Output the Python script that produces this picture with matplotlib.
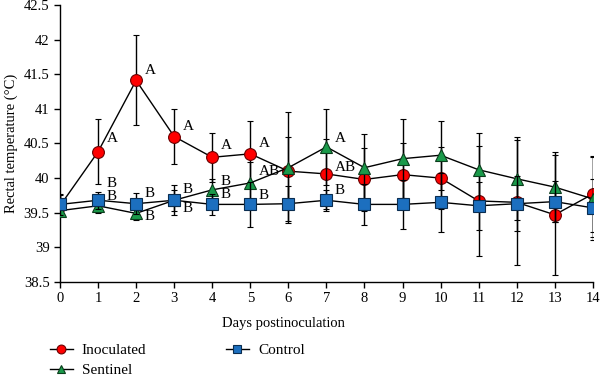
import matplotlib
matplotlib.use("Agg")
import matplotlib.pyplot as plt
from matplotlib.ticker import FuncFormatter
from matplotlib.lines import Line2D

plt.rcParams['font.family'] = ['Liberation Serif', 'DejaVu Serif']

days = list(range(15))
inoculated = [39.60, 40.38, 41.41, 40.60, 40.30, 40.35, 40.10, 40.06, 39.98, 40.05, 40.00, 39.67, 39.65, 39.47, 39.77]
inoculated_err = [0.15, 0.47, 0.65, 0.40, 0.35, 0.48, 0.50, 0.50, 0.45, 0.45, 0.45, 0.80, 0.90, 0.87, 0.55]
sentinel = [39.53, 39.60, 39.49, 39.68, 39.83, 39.93, 40.15, 40.45, 40.15, 40.28, 40.33, 40.12, 39.99, 39.87, 39.70]
sentinel_err = [0.08, 0.10, 0.10, 0.15, 0.15, 0.30, 0.80, 0.55, 0.48, 0.57, 0.50, 0.53, 0.60, 0.50, 0.60]
control = [39.62, 39.68, 39.63, 39.68, 39.62, 39.62, 39.63, 39.68, 39.62, 39.62, 39.65, 39.60, 39.63, 39.66, 39.57]
control_err = [0.15, 0.12, 0.15, 0.22, 0.15, 0.33, 0.25, 0.15, 0.30, 0.35, 0.43, 0.35, 0.40, 0.30, 0.42]

letter_x = [1, 2, 3, 4, 5, 1, 1, 2, 2, 3, 3, 4, 4, 5, 5, 7, 7, 7]
letter_y = [40.57, 41.56, 40.75, 40.47, 40.50, 39.92, 39.74, 39.78, 39.45, 39.83, 39.56, 39.95, 39.76, 40.10, 39.75, 40.57, 40.16, 39.82]
letter_txt = ['A', 'A', 'A', 'A', 'A', 'B', 'B', 'B', 'B', 'B', 'B', 'B', 'B', 'AB', 'B', 'A', 'AB', 'B']

series_names = ['Inoculated', 'Sentinel', 'Control']

fig = plt.figure(figsize=(6.0, 3.79), dpi=100)
ax = fig.add_axes([0.1, 0.256, 0.888, 0.731])

styles = [
    dict(marker='o', ms=8.5, mfc='#FF0000', mec='#6B0000'),
    dict(marker='^', ms=8, mfc='#1A9A4A', mec='#0B3D1C'),
    dict(marker='s', ms=8, mfc='#1C6FBF', mec='#0A2D50'),
]
data = [(inoculated, inoculated_err), (sentinel, sentinel_err), (control, control_err)]
handles = []
for i, ((vals, errs), st, name) in enumerate(zip(data, styles, series_names)):
    ax.errorbar(days, vals, yerr=errs, color='black', lw=1, capsize=2.5, mew=0.8,
                zorder=3 + i, **st)
    handles.append(Line2D([], [], color='black', lw=1, mew=0.8,
                          marker=st['marker'], ms=st['ms'] * 0.75,
                          mfc=st['mfc'], mec=st['mec'], label=name))

for x, y, t in zip(letter_x, letter_y, letter_txt):
    ax.text(x + 0.22, y, t, ha='left', va='center', fontsize=11, zorder=6)

ax.set_xlim(0, 14)
ax.set_ylim(38.5, 42.5)
ax.set_xticks(days)
ax.set_yticks([38.5, 39, 39.5, 40, 40.5, 41, 41.5, 42, 42.5])
ax.yaxis.set_major_formatter(FuncFormatter(lambda v, p: ('%g' % v)))
ax.tick_params(labelsize=10.5, direction='out', length=4, width=1)
for s in ['top', 'right']:
    ax.spines[s].set_visible(False)
for s in ['left', 'bottom']:
    ax.spines[s].set_linewidth(1)

ax.set_xlabel('Days postinoculation', fontsize=10.5)
ax.xaxis.set_label_coords(0.42, -0.125)
ax.set_ylabel('Rectal temperature (°C)', fontsize=10.5)
ax.yaxis.set_label_coords(-0.078, 0.5)

leg = fig.legend(handles=handles, loc='upper left', bbox_to_anchor=(0.083, 0.093), ncol=2,
                 frameon=False, fontsize=11,
                 handlelength=1.5, columnspacing=5.2,
                 labelspacing=0.4, handletextpad=0.6, borderpad=0, borderaxespad=0)
for t in leg.get_texts():
    t.set_fontfamily(['Liberation Serif', 'DejaVu Serif'])

fig.savefig('out.png', dpi=100)
